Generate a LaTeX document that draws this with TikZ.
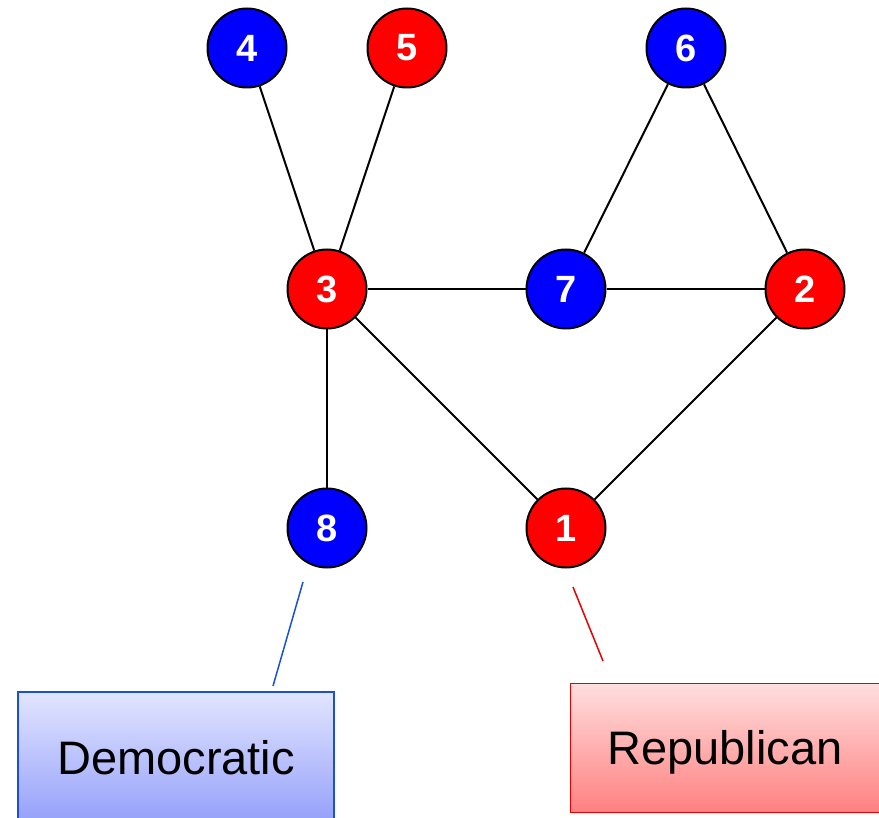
\documentclass[tikz,border=0pt]{standalone}
\usepackage{fontspec}
\setmainfont{Liberation Sans}
\begin{document}
\begin{tikzpicture}[x=1pt,y=-1pt,
  vert/.style={circle,draw=black,line width=2pt,minimum size=79pt,inner sep=0pt,
    text=white,font=\fontsize{38}{38}\selectfont\bfseries},
  redv/.style={vert,fill=red},
  bluev/.style={vert,fill=blue},
  edge/.style={draw=black,line width=2pt},
  party/.style={rectangle,line width=1.5pt,inner sep=0pt,
    font=\fontsize{47}{47}\selectfont,text height=33.7pt,text depth=0pt},
]
\useasboundingbox (0,0) rectangle (879,818);
\clip (0,0) rectangle (879,818);
\node[bluev] (n4) at (247,48) {4};
\node[redv]  (n5) at (407,48) {5};
\node[bluev] (n6) at (686,48) {6};
\node[redv]  (n3) at (327,289) {3};
\node[bluev] (n7) at (566,289) {7};
\node[redv]  (n2) at (805,289) {2};
\node[bluev] (n8) at (327,528) {8};
\node[redv]  (n1) at (566,528) {1};
\draw[edge] (n4) -- (n3);
\draw[edge] (n5) -- (n3);
\draw[edge] (n6) -- (n7);
\draw[edge] (n6) -- (n2);
\draw[edge] (n3) -- (n7);
\draw[edge] (n7) -- (n2);
\draw[edge] (n3) -- (n8);
\draw[edge] (n3) -- (n1);
\draw[edge] (n2) -- (n1);
\definecolor{demtop}{RGB}{226,229,255}
\definecolor{dembot}{RGB}{148,160,250}
\definecolor{demline}{RGB}{25,80,215}
\definecolor{reptop}{RGB}{255,222,222}
\definecolor{repbot}{RGB}{255,128,128}
\definecolor{repline}{RGB}{230,0,0}
\node[party,draw=demline,top color=demtop,bottom color=dembot,
  minimum width=316pt,minimum height=131pt] (dem) at (176,757.5) {Democratic};
\node[party,draw=repline,top color=reptop,bottom color=repbot,
  minimum width=309pt,minimum height=129pt] (rep) at (725,748) {Republican};
\coordinate (d1) at (303,582);
\coordinate (d2) at (273,686);
\coordinate (r1) at (573,587);
\coordinate (r2) at (603,661);
\draw[demline,line width=1.5pt] (d1) -- (d2);
\draw[repline,line width=1.5pt] (r1) -- (r2);
\end{tikzpicture}
\end{document}
